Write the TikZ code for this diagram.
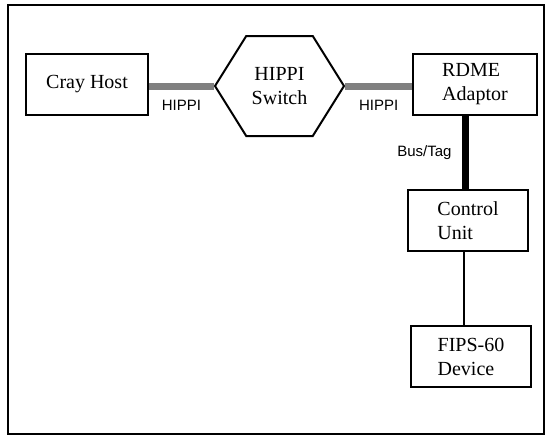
\documentclass[tikz,border=0pt]{standalone}
\usepackage{fontspec}
\setmainfont{Liberation Serif}
\setsansfont{Liberation Sans}
\usetikzlibrary{shapes.symbols}
\usetikzlibrary{positioning}

\begin{document}
\begin{tikzpicture}[x=0.5pt, y=-0.5pt]

    \tikzstyle{unit}     = [draw, line width=1pt, rectangle, align=left, inner sep=0pt, font=\fontsize{10}{12}\selectfont, minimum width=61pt, minimum height=30.5pt];
    \tikzstyle{hub}      = [draw, line width=1pt, signal, signal to=west and east, signal pointer angle=116, align=center, inner sep=0pt, font=\fontsize{10}{12}\selectfont, minimum width=64.5pt, minimum height=50pt];
    \tikzstyle{hippi}    = [line width=3.5pt, black!50];
    \tikzstyle{bus}      = [line width=3.5pt, black];
    \tikzstyle{wire}     = [line width=1pt, black];
    \tikzstyle{linklbl}  = [font=\sffamily\fontsize{7.5}{9}\selectfont, text=black, inner sep=1pt];

    \useasboundingbox (0,0) rectangle (546,436);
    \draw[line width=1pt] (7.5,5) rectangle (544,434);

    %
    % HIPPI channel
    %
    \node[unit] (cray)   at (87,84.5)   {Cray Host};
    \node[hub]  (switch) at (279.5,86)  {HIPPI\\Switch};
    \node[unit] (rdme)   at (475,84.5)  [minimum width=62pt] {RDME\\Adaptor};

    %
    % Bus/Tag channel
    %
    \node[unit] (control) at (468,220.5) [minimum width=60pt] {Control\\Unit};
    \node[unit] (fips)    at (471,356.5) [minimum width=60pt] {FIPS-60\\Device};

    \coordinate (bus-top)  at ([xshift=-1.5pt]control.north);
    \coordinate (wire-top) at ([xshift=-2pt]control.south);

    \draw[hippi] (switch.west -| cray.east) -- (switch.west)
        node[linklbl, midway, below=4.5pt] (hippi-a) {HIPPI};
    \draw[hippi] (switch.east) -- (switch.east -| rdme.west)
        node[linklbl, midway, below=4.5pt] (hippi-b) {HIPPI};
    \draw[bus]   (bus-top |- rdme.south) -- (bus-top)
        node[linklbl, midway, left=4pt] (bustag) {Bus/Tag};
    \draw[wire]  (wire-top) -- (wire-top |- fips.north);

\end{tikzpicture}
\end{document}
